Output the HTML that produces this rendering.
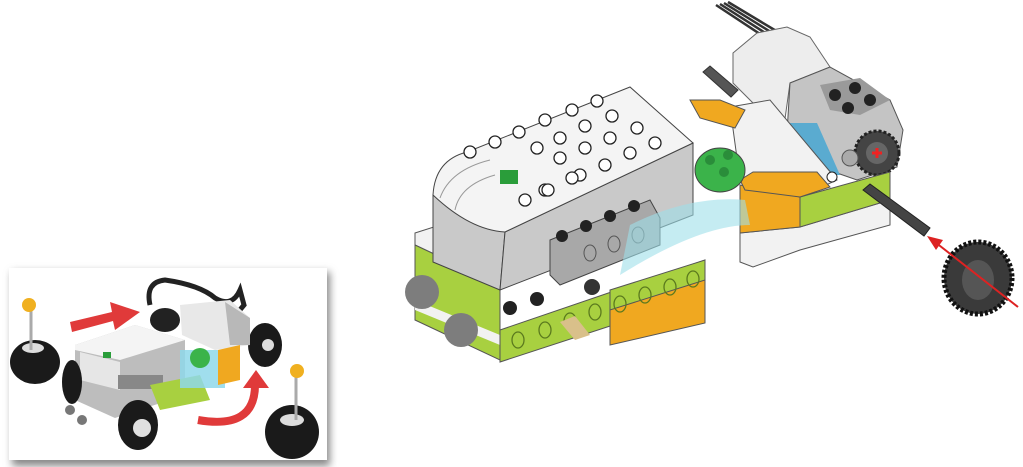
<!DOCTYPE html>
<html><head><meta charset="utf-8"><style>
html,body{margin:0;padding:0;background:#fff;width:1023px;height:467px;overflow:hidden}
</style></head><body>
<svg width="1023" height="467" viewBox="0 0 1023 467" xmlns="http://www.w3.org/2000/svg">
<defs>
<filter id="sh" x="-10%" y="-10%" width="130%" height="130%"><feGaussianBlur stdDeviation="4"/></filter>
</defs>
<!-- inset -->
<rect x="12" y="272" width="318" height="194" fill="#888" filter="url(#sh)"/>
<rect x="9" y="268" width="318" height="192" fill="#fff"/>
<!-- cable -->
<path d="M150 305 Q145 282 165 280 Q200 285 215 298 Q232 308 240 290 L244 305 L215 340" fill="none" stroke="#222" stroke-width="5"/>
<!-- back wheels -->
<ellipse cx="165" cy="320" rx="15" ry="12" fill="#222"/>
<ellipse cx="265" cy="345" rx="17" ry="22" fill="#1a1a1a"/><circle cx="268" cy="345" r="6" fill="#ddd"/>
<!-- motor -->
<polygon points="180,305 230,300 250,318 250,345 215,350 182,335" fill="#e8e8e8"/>
<polygon points="225,302 250,318 250,345 230,345" fill="#b8b8b8"/>
<!-- red arrow straight -->
<polygon points="70,322 112,312 110,302 140,312 115,330 113,321 72,332" fill="#e03a3a"/>
<!-- hub -->
<polygon points="75,345 135,325 185,340 185,395 115,418 75,400" fill="#bdbdbd"/>
<polygon points="75,345 135,325 185,340 120,360 75,350" fill="#f4f4f4"/>
<polygon points="80,352 120,362 120,390 80,380" fill="#e6e6e6"/>
<rect x="103" y="352" width="8" height="6" fill="#2a9d3a"/>
<rect x="118" y="375" width="45" height="14" fill="#888"/>
<polygon points="150,385 200,375 210,400 160,410" fill="#a8d040"/>
<rect x="180" y="350" width="45" height="38" fill="#8fd8ea" opacity="0.85"/>
<circle cx="200" cy="358" r="10" fill="#3bb34a"/>
<polygon points="218,350 240,345 240,380 218,385" fill="#f0a820"/>
<ellipse cx="138" cy="425" rx="20" ry="25" fill="#1a1a1a"/><circle cx="142" cy="428" r="9" fill="#e0e0e0"/>
<ellipse cx="72" cy="382" rx="10" ry="22" fill="#1a1a1a"/>
<circle cx="70" cy="410" r="5" fill="#777"/><circle cx="82" cy="420" r="5" fill="#777"/>
<!-- side wheels -->
<ellipse cx="35" cy="362" rx="25" ry="22" fill="#1a1a1a"/><ellipse cx="33" cy="348" rx="11" ry="5" fill="#ddd"/>
<line x1="31" y1="307" x2="31" y2="350" stroke="#aaa" stroke-width="3"/><circle cx="29" cy="305" r="7" fill="#f0b020"/>
<ellipse cx="292" cy="432" rx="27" ry="27" fill="#1a1a1a"/><ellipse cx="292" cy="420" rx="12" ry="6" fill="#ddd"/>
<line x1="296" y1="373" x2="296" y2="420" stroke="#aaa" stroke-width="3"/><circle cx="297" cy="371" r="7" fill="#f0b020"/>
<path d="M198 420 Q255 430 255 385" fill="none" stroke="#e03a3a" stroke-width="8"/>
<polygon points="243,388 256,370 269,388" fill="#e03a3a"/>

<!-- ===== main model ===== -->
<path d="M720 4 L770 36 M724 3 L774 34 M728 2 L778 32 M716 5 L766 38" stroke="#333" stroke-width="2.5"/>
<!-- back axle -->
<polygon points="703,72 710,66 738,90 731,97" fill="#555" stroke="#333"/>
<!-- motor -->
<polygon points="733,53 757,33 787,27 810,37 830,67 790,83 783,133 733,83" fill="#ededed" stroke="#666"/>
<polygon points="790,83 830,67 890,100 903,130 897,167 857,180 837,173 787,133" fill="#c4c4c4" stroke="#555"/>
<polygon points="820,85 860,78 890,100 860,115 830,110" fill="#9a9a9a"/>
<g fill="#222"><circle cx="835" cy="95" r="6"/><circle cx="855" cy="88" r="6"/><circle cx="848" cy="108" r="6"/><circle cx="870" cy="100" r="6"/></g>
<circle cx="877" cy="153" r="22" fill="#444" stroke="#222" stroke-dasharray="3 2" stroke-width="3"/>
<circle cx="877" cy="153" r="11" fill="#666"/>
<path d="M872 158h10M877 153v10" stroke="#e22" stroke-width="3" transform="translate(0,-5)"/>
<circle cx="850" cy="158" r="8" fill="#aaa" stroke="#555"/>
<!-- right section -->
<polygon points="760,123 817,123 840,175 765,175" fill="#5aabd0"/>
<polygon points="730,107 770,100 837,180 800,197 740,180" fill="#f2f2f2" stroke="#555"/>
<polygon points="740,233 800,227 890,200 890,225 800,250 753,267 740,262" fill="#f2f2f2" stroke="#555"/>
<polygon points="800,197 890,172 890,200 800,227" fill="#a8d040" stroke="#555"/>
<polygon points="740,185 800,197 800,227 740,233" fill="#f0a820" stroke="#555"/>
<polygon points="740,180 753,172 817,172 830,187 800,197 745,190" fill="#f0a820" stroke="#555"/>
<polygon points="690,100 720,100 745,110 735,128 700,118" fill="#f0a820" stroke="#555"/>
<polygon points="863,190 870,184 930,228 924,236" fill="#444" stroke="#222"/>
<circle cx="832" cy="177" r="5" fill="#fff" stroke="#222"/>
<!-- green round -->
<ellipse cx="720" cy="170" rx="25" ry="22" fill="#3bb34a" stroke="#444"/>
<g fill="#2a8d3a"><circle cx="710" cy="160" r="5"/><circle cx="728" cy="155" r="5"/><circle cx="724" cy="172" r="5"/></g>
<!-- base -->
<polygon points="415,233 440,225 510,260 510,280 500,285 415,245" fill="#f2f2f2" stroke="#555"/>
<polygon points="415,245 500,285 500,360 415,320" fill="#a8d040" stroke="#555"/>
<polygon points="415,300 500,335 500,345 415,310" fill="#f2f2f2"/>
<polygon points="500,330 705,260 705,295 500,362" fill="#a8d040" stroke="#555"/>
<polygon points="610,300 705,270 705,323 610,345" fill="#f0a820" stroke="#555"/>
<polygon points="610,290 705,260 705,280 610,310" fill="#a8d040" stroke="#555"/>
<g fill="none" stroke="#5b7a1e" stroke-width="1.3">
<ellipse cx="518" cy="340" rx="6" ry="8"/><ellipse cx="545" cy="330" rx="6" ry="8"/><ellipse cx="570" cy="321" rx="6" ry="8"/><ellipse cx="595" cy="312" rx="6" ry="8"/><ellipse cx="620" cy="304" rx="6" ry="8"/><ellipse cx="645" cy="295" rx="6" ry="8"/><ellipse cx="670" cy="287" rx="6" ry="8"/><ellipse cx="693" cy="279" rx="6" ry="8"/>
</g>
<circle cx="510" cy="308" r="7" fill="#222"/><circle cx="537" cy="299" r="7" fill="#222"/>
<polygon points="560,322 575,316 590,335 575,340" fill="#d9c08a"/>
<circle cx="592" cy="287" r="8" fill="#333"/>
<!-- hub -->
<polygon points="433,195 505,232 500,290 433,262" fill="#c9c9c9" stroke="#444"/>
<polygon points="505,232 693,143 693,215 500,290" fill="#c9c9c9" stroke="#444"/>
<path d="M433,195 Q435,160 467,152 L630,87 L693,143 L505,232 Q470,230 433,195 Z" fill="#f4f4f4" stroke="#444"/>
<path d="M440,198 Q450,170 490,160" fill="none" stroke="#999"/>
<path d="M455,210 Q460,185 495,175" fill="none" stroke="#999"/>
<rect x="500" y="170" width="18" height="14" fill="#2a9d3a"/>
<polygon points="550,240 650,200 660,218 660,245 560,285 550,275" fill="#a8a8a8" stroke="#444"/>
<g fill="#222"><circle cx="562" cy="236" r="6"/><circle cx="586" cy="226" r="6"/><circle cx="610" cy="216" r="6"/><circle cx="634" cy="206" r="6"/></g>
<g fill="none" stroke="#555"><ellipse cx="590" cy="253" rx="6" ry="8"/><ellipse cx="614" cy="244" rx="6" ry="8"/><ellipse cx="638" cy="235" rx="6" ry="8"/></g>
<path d="M630,225 Q690,195 745,200 L750,225 Q700,225 620,275 Z" fill="#9ee0ea" opacity="0.6"/>
<g fill="#fff" stroke="#222" stroke-width="1.3">
<circle cx="470" cy="152" r="6"/><circle cx="495" cy="142" r="6"/><circle cx="519" cy="132" r="6"/><circle cx="545" cy="120" r="6"/><circle cx="572" cy="110" r="6"/><circle cx="597" cy="101" r="6"/>
<circle cx="537" cy="148" r="6"/><circle cx="560" cy="138" r="6"/><circle cx="585" cy="126" r="6"/><circle cx="612" cy="116" r="6"/>
<circle cx="560" cy="158" r="6"/><circle cx="585" cy="148" r="6"/><circle cx="610" cy="138" r="6"/><circle cx="637" cy="128" r="6"/>
<circle cx="580" cy="175" r="6"/><circle cx="605" cy="165" r="6"/><circle cx="630" cy="153" r="6"/><circle cx="655" cy="143" r="6"/>
<circle cx="545" cy="190" r="6"/><circle cx="572" cy="178" r="6"/>
<circle cx="525" cy="200" r="6"/><circle cx="548" cy="190" r="6"/>
</g>
<!-- grey balls -->
<circle cx="422" cy="292" r="17" fill="#7d7d7d"/>
<circle cx="461" cy="330" r="17" fill="#7d7d7d"/>
<!-- gear -->
<ellipse cx="978" cy="278" rx="34" ry="36" fill="#3a3a3a" stroke="#111" stroke-dasharray="3 2" stroke-width="5"/>
<ellipse cx="978" cy="280" rx="16" ry="20" fill="#555"/>
<line x1="1018" y1="307" x2="935" y2="242" stroke="#d22" stroke-width="2"/>
<polygon points="927,236 943,240 936,250" fill="#d22"/>
</svg>
</body></html>
